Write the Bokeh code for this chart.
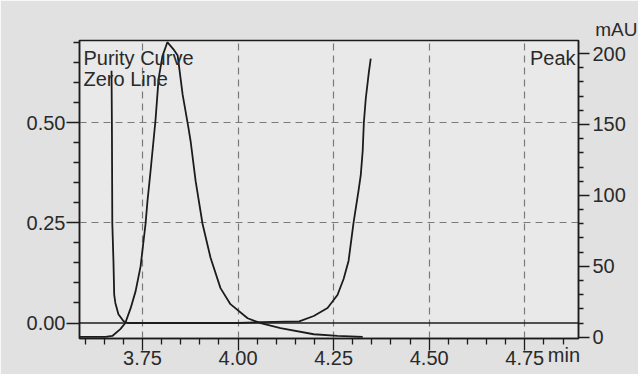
from bokeh.plotting import figure
from bokeh.models import (Range1d, LinearAxis, FixedTicker, Span, Label, Title)
from bokeh.embed import file_html
from bokeh.resources import INLINE

# ---- data ----
peak_time = [3.585, 3.653, 3.671, 3.692, 3.705, 3.719, 3.732, 3.745, 3.758, 3.763,
             3.771, 3.784, 3.792, 3.802, 3.815, 3.831, 3.842, 3.855, 3.870, 3.876,
             3.889, 3.907, 3.928, 3.954, 3.980, 4.025, 4.059, 4.111, 4.198, 4.260, 4.326]
peak_mau = [0.3, 0.3, 0.9, 5.7, 10.0, 20.5, 32.5, 50.0, 80.0, 96.0,
            117.0, 153.0, 182.0, 198.0, 208.0, 203.0, 198.6, 171.0, 148.0, 138.0,
            110.0, 80.0, 56.0, 34.6, 23.3, 13.4, 9.9, 6.4, 2.1, 1.0, 0.3]

purity_time = [3.669, 3.670, 3.671, 3.674, 3.676, 3.679, 3.687, 3.700, 3.711, 3.80,
               3.90, 4.00, 4.06, 4.16, 4.198, 4.234, 4.260, 4.276, 4.289, 4.302,
               4.315, 4.321, 4.326, 4.329, 4.334, 4.342, 4.347]
purity_val = [0.63, 0.49, 0.25, 0.155, 0.07, 0.05, 0.022, 0.005, 0.0, 0.0,
              0.0, 0.0, 0.002, 0.004, 0.0175, 0.0375, 0.07, 0.11, 0.155, 0.25,
              0.33, 0.37, 0.43, 0.50, 0.56, 0.625, 0.66]

x_major = [3.75, 4.00, 4.25, 4.50, 4.75]
x_minor = [3.60, 3.65, 3.70, 3.80, 3.85, 3.90, 3.95, 4.05, 4.10, 4.15, 4.20,
           4.30, 4.35, 4.40, 4.45, 4.55, 4.60, 4.65, 4.70, 4.80, 4.85]
left_major = [0.00, 0.25, 0.50]
left_minor = [0.05, 0.10, 0.15, 0.20, 0.30, 0.35, 0.40, 0.45, 0.55, 0.60, 0.65, 0.70]
right_major = [0, 50, 100, 150, 200]
right_minor = [10, 20, 30, 40, 60, 70, 80, 90, 110, 120, 130, 140, 160, 170, 180, 190]
zero_level = 0.0
x_unit, y_unit = "min", "mAU"
x_unit_pos = 4.8525   # layout position of the "min" unit text

FONT = "Liberation Sans"
TXT = "#2a2a2a"
INK = "#1c1c1c"

p = figure(width=638, height=374, output_backend="svg", toolbar_location=None,
           x_range=Range1d(3.5852, 4.8905), y_range=Range1d(-0.0387, 0.7054),
           min_border_left=79, min_border_right=60, min_border_top=40,
           min_border_bottom=36)
p.extra_y_ranges = {"mau": Range1d(-0.9, 209.2)}

p.background_fill_color = "#e9e9e9"
p.border_fill_color = "#e1e1e1"
p.outline_line_color = INK
p.outline_line_width = 1.5

# axes
xa = p.xaxis[0]
xa.ticker = FixedTicker(ticks=x_major, minor_ticks=x_minor)
xa.major_label_overrides = {v: f"{v:.2f}" for v in x_major}
ya = p.yaxis[0]
ya.ticker = FixedTicker(ticks=left_major, minor_ticks=left_minor)
ya.major_label_overrides = {v: f"{v:.2f}" for v in left_major}
ra = LinearAxis(y_range_name="mau",
                ticker=FixedTicker(ticks=right_major, minor_ticks=right_minor))
p.add_layout(ra, "right")

for ax in (xa, ya, ra):
    ax.axis_line_color = INK
    ax.axis_line_width = 1.5
    ax.major_tick_line_color = INK
    ax.minor_tick_line_color = INK
    ax.major_tick_line_width = 1.3
    ax.minor_tick_line_width = 1.3
    ax.major_tick_in = 0
    ax.minor_tick_in = 0
    ax.major_label_text_font = FONT
    ax.major_label_text_font_size = "20px"
    ax.major_label_text_color = TXT

xa.major_tick_out = 12
xa.minor_tick_out = 6
xa.major_label_standoff = 0
ya.major_tick_out = 13
ya.minor_tick_out = 6
ya.major_label_standoff = 1
ra.major_tick_out = 11
ra.minor_tick_out = 5
ra.major_label_standoff = 3

# unit text "min" as a second, line-less bottom axis sharing the tick-label band
ua = LinearAxis(ticker=FixedTicker(ticks=[x_unit_pos], minor_ticks=[]),
                major_label_overrides={x_unit_pos: x_unit},
                axis_line_color=None, major_tick_line_color=None,
                minor_tick_line_color=None, major_tick_out=0, minor_tick_out=0,
                major_label_standoff=-24, major_label_text_font=FONT,
                major_label_text_font_size="20px", major_label_text_color=TXT)
p.add_layout(ua, "below")

# unit text "mAU" above the right axis
p.add_layout(Title(text=y_unit, align="right", offset=-59, standoff=2,
                   text_font=FONT, text_font_size="19px", text_color=TXT,
                   text_font_style="normal"), "above")

# grid
p.xgrid.ticker = FixedTicker(ticks=x_major)
p.ygrid.ticker = FixedTicker(ticks=[0.25, 0.50])
for g in (p.xgrid[0], p.ygrid[0]):
    g.grid_line_color = "#7a7a7a"
    g.grid_line_dash = "7 5"
    g.grid_line_width = 1.2

# zero line
p.add_layout(Span(location=zero_level, dimension="width", line_color=INK, line_width=1.6))

# curves
p.line(purity_time, purity_val, line_color=INK, line_width=1.8)
p.line(peak_time, peak_mau, y_range_name="mau", line_color=INK, line_width=1.8)

# legend-like texts inside the frame
def lab(text, x, y, align="left", size="20px"):
    p.add_layout(Label(x=x, y=y, x_units="screen", y_units="screen", text=text,
                       text_font=FONT, text_font_size=size, text_color=TXT,
                       text_align=align, text_baseline="alphabetic"))

lab("Purity Curve", 4, 280.7)
lab("Zero Line", 4, 259.5)
lab("Peak", 496, 280.7, "right")

open("out.html", "w").write(file_html(p, INLINE))
